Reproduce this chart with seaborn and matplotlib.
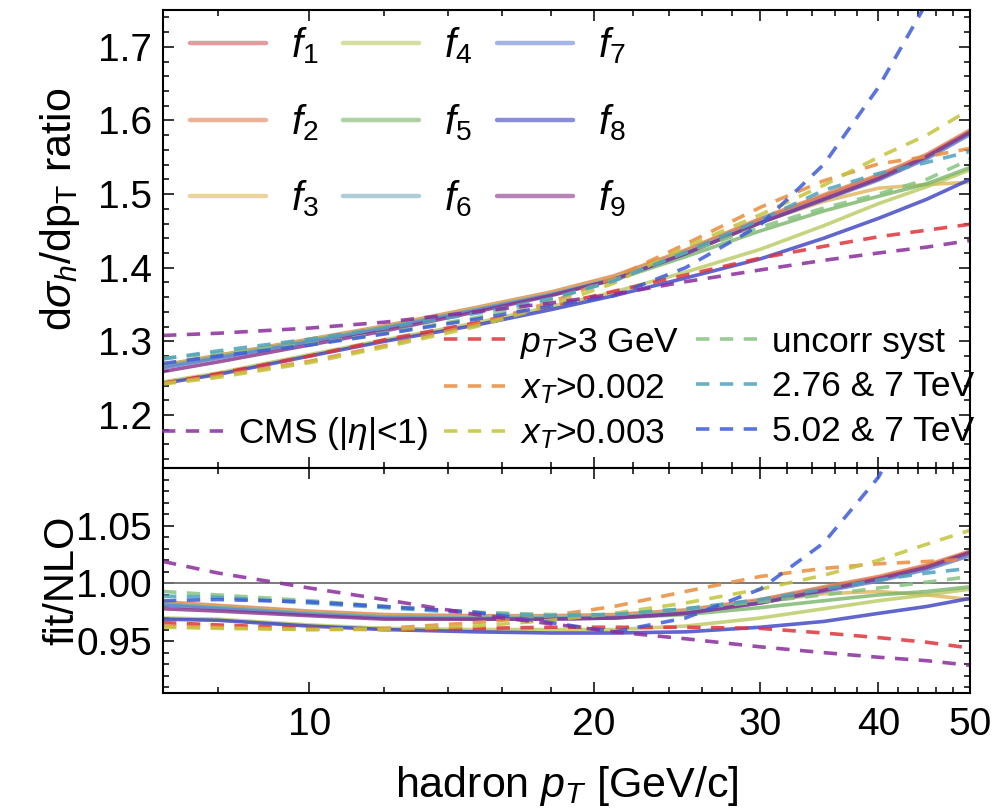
import numpy as np
import pandas as pd
import matplotlib
matplotlib.use("Agg")
import matplotlib.pyplot as plt
import seaborn as sns
from matplotlib.ticker import FixedLocator, NullFormatter, FixedFormatter
from matplotlib.lines import Line2D

# ---------------- data ----------------
pt = [7, 8, 10, 12, 15, 18, 21, 25, 30, 35, 40, 45, 50]

# upper panel: dsigma/dpT ratio
f1_up = [1.266, 1.279, 1.301, 1.319, 1.344, 1.365, 1.387, 1.422, 1.465, 1.497, 1.524, 1.552, 1.585]
f2_up = [1.268, 1.281, 1.303, 1.321, 1.346, 1.367, 1.389, 1.424, 1.467, 1.499, 1.526, 1.554, 1.587]
f3_up = [1.267, 1.280, 1.302, 1.320, 1.345, 1.366, 1.387, 1.421, 1.462, 1.490, 1.508, 1.513, 1.516]
f4_up = [1.245, 1.257, 1.282, 1.302, 1.325, 1.347, 1.367, 1.394, 1.425, 1.457, 1.487, 1.510, 1.533]
f5_up = [1.266, 1.279, 1.301, 1.319, 1.343, 1.363, 1.383, 1.415, 1.450, 1.477, 1.497, 1.514, 1.536]
f6_up = [1.265, 1.278, 1.300, 1.318, 1.343, 1.364, 1.385, 1.420, 1.462, 1.493, 1.520, 1.549, 1.582]
f7_up = [1.264, 1.277, 1.299, 1.317, 1.342, 1.363, 1.384, 1.419, 1.461, 1.492, 1.519, 1.548, 1.581]
f8_up = [1.243, 1.255, 1.280, 1.300, 1.322, 1.343, 1.362, 1.386, 1.412, 1.440, 1.467, 1.493, 1.520]
f9_up = [1.259, 1.272, 1.295, 1.314, 1.340, 1.362, 1.384, 1.419, 1.461, 1.493, 1.521, 1.551, 1.584]

pt3_up = [1.243, 1.256, 1.280, 1.302, 1.325, 1.348, 1.368, 1.390, 1.413, 1.429, 1.442, 1.451, 1.459]
xt002_up = [1.243, 1.253, 1.273, 1.294, 1.323, 1.353, 1.386, 1.432, 1.482, 1.518, 1.541, 1.551, 1.562]
xt003_up = [1.242, 1.251, 1.271, 1.292, 1.320, 1.349, 1.379, 1.428, 1.472, 1.512, 1.550, 1.580, 1.615]
uncorr_up = [1.277, 1.284, 1.296, 1.311, 1.332, 1.356, 1.383, 1.421, 1.455, 1.481, 1.500, 1.520, 1.547]
e276_up = [1.276, 1.287, 1.303, 1.318, 1.338, 1.358, 1.382, 1.421, 1.465, 1.505, 1.528, 1.543, 1.558]
e502_up = [1.270, 1.280, 1.295, 1.310, 1.330, 1.348, 1.362, 1.400, 1.458, 1.540, 1.645, 1.760, 1.920]
cms_up = [1.308, 1.311, 1.318, 1.326, 1.340, 1.352, 1.364, 1.381, 1.397, 1.410, 1.420, 1.428, 1.437]

# lower panel: fit/NLO
f1_lo = [0.983, 0.980, 0.975, 0.972, 0.971, 0.971, 0.972, 0.976, 0.985, 0.996, 1.005, 1.015, 1.027]
f2_lo = [0.984, 0.981, 0.976, 0.973, 0.972, 0.972, 0.973, 0.977, 0.986, 0.997, 1.006, 1.016, 1.028]
f3_lo = [0.983, 0.980, 0.975, 0.972, 0.971, 0.971, 0.972, 0.976, 0.984, 0.991, 0.993, 0.990, 0.986]
f4_lo = [0.970, 0.969, 0.964, 0.961, 0.960, 0.960, 0.960, 0.963, 0.970, 0.978, 0.985, 0.990, 0.995]
f5_lo = [0.982, 0.979, 0.974, 0.971, 0.970, 0.970, 0.970, 0.973, 0.979, 0.985, 0.990, 0.993, 0.997]
f6_lo = [0.982, 0.979, 0.974, 0.971, 0.970, 0.970, 0.971, 0.975, 0.984, 0.994, 1.003, 1.013, 1.025]
f7_lo = [0.981, 0.978, 0.973, 0.970, 0.969, 0.969, 0.970, 0.974, 0.983, 0.993, 1.002, 1.012, 1.024]
f8_lo = [0.969, 0.968, 0.963, 0.960, 0.958, 0.957, 0.957, 0.958, 0.962, 0.967, 0.974, 0.980, 0.987]
f9_lo = [0.978, 0.976, 0.972, 0.969, 0.969, 0.969, 0.970, 0.974, 0.983, 0.994, 1.004, 1.014, 1.027]

pt3_lo = [0.966, 0.964, 0.961, 0.960, 0.961, 0.962, 0.962, 0.962, 0.961, 0.957, 0.953, 0.949, 0.944]
xt002_lo = [0.963, 0.962, 0.960, 0.961, 0.966, 0.972, 0.980, 0.993, 1.006, 1.013, 1.017, 1.019, 1.021]
xt003_lo = [0.962, 0.961, 0.960, 0.960, 0.963, 0.968, 0.974, 0.983, 0.995, 1.007, 1.020, 1.034, 1.046]
uncorr_lo = [0.993, 0.990, 0.985, 0.980, 0.975, 0.973, 0.973, 0.978, 0.984, 0.990, 0.996, 1.001, 1.006]
e276_lo = [0.989, 0.988, 0.983, 0.979, 0.974, 0.972, 0.973, 0.978, 0.986, 0.995, 1.003, 1.009, 1.013]
e502_lo = [0.985, 0.986, 0.984, 0.980, 0.975, 0.966, 0.958, 0.970, 0.995, 1.035, 1.092, 1.170, 1.250]
cms_lo = [1.019, 1.009, 0.996, 0.986, 0.973, 0.965, 0.958, 0.952, 0.945, 0.940, 0.936, 0.933, 0.929]

fit_names = ["$f_1$", "$f_2$", "$f_3$", "$f_4$", "$f_5$", "$f_6$", "$f_7$", "$f_8$", "$f_9$"]
fit_up = [f1_up, f2_up, f3_up, f4_up, f5_up, f6_up, f7_up, f8_up, f9_up]
fit_lo = [f1_lo, f2_lo, f3_lo, f4_lo, f5_lo, f6_lo, f7_lo, f8_lo, f9_lo]
fit_colors = ["#cc5a5e", "#e08050", "#e0b45a", "#b9c95e", "#78b468",
              "#78acbc", "#6684d2", "#3a40c4", "#86308a"]

var_names = ["$p_T$>3 GeV", "$x_T$>0.002", "$x_T$>0.003", "uncorr syst",
             "2.76 & 7 TeV", "5.02 & 7 TeV", "CMS (|$\\eta$|<1)"]
var_up = [pt3_up, xt002_up, xt003_up, uncorr_up, e276_up, e502_up, cms_up]
var_lo = [pt3_lo, xt002_lo, xt003_lo, uncorr_lo, e276_lo, e502_lo, cms_lo]
var_colors = ["#e0343a", "#e88c3c", "#c4c43c", "#86c480", "#4ea2bc", "#3c5cd8", "#8a2c9c"]

up_yticks = [1.2, 1.3, 1.4, 1.5, 1.6, 1.7]
lo_yticks = [0.95, 1.00, 1.05]
x_ticks = [10, 20, 30, 40, 50]

# ---------------- style ----------------
sns.set_theme(style="ticks")
plt.rcParams["font.family"] = ["Liberation Sans", "DejaVu Sans"]
plt.rcParams["mathtext.fontset"] = "custom"
plt.rcParams["mathtext.rm"] = "Liberation Sans"
plt.rcParams["mathtext.it"] = "Liberation Sans:italic"
plt.rcParams["mathtext.bf"] = "Liberation Sans:bold"
plt.rcParams["text.color"] = "black"
plt.rcParams["axes.labelcolor"] = "black"
plt.rcParams["xtick.color"] = "black"
plt.rcParams["ytick.color"] = "black"

W, H = 997, 810
fig = plt.figure(figsize=(W / 100, H / 100), dpi=100)
L, R = 163, 970
ax1 = fig.add_axes([L / W, 1 - 468 / H, (R - L) / W, (468 - 10) / H])
ax2 = fig.add_axes([L / W, 1 - 693 / H, (R - L) / W, (693 - 468) / H])

DASH = (0, (3.7, 2.9))

for ax, fits, vars_ in ((ax1, fit_up, var_up), (ax2, fit_lo, var_lo)):
    for vals, c in zip(fits, fit_colors):
        sns.lineplot(x=pt, y=vals, ax=ax, color=c, linewidth=2.6, alpha=0.8,
                     legend=False, sort=False)
    for vals, c in zip(vars_, var_colors):
        sns.lineplot(x=pt, y=vals, ax=ax, color=c, linewidth=2.6, alpha=0.85,
                     linestyle=DASH, legend=False, sort=False)

ax2.axhline(1.0, color="#707070", lw=1.3, zorder=1)

for ax in (ax1, ax2):
    ax.set_xscale("log")
    ax.set_xlim(7, 50)
    ax.xaxis.set_major_locator(FixedLocator(x_ticks))
    ax.xaxis.set_minor_locator(FixedLocator([v for v in range(8, 50, 2) if v not in x_ticks]))
    ax.xaxis.set_minor_formatter(NullFormatter())
    ax.tick_params(which="both", direction="in", top=True, right=True,
                   labelsize=28, colors="black", width=1.1)
    ax.tick_params(which="major", length=8)
    ax.tick_params(which="minor", length=4.5)
    for s in ax.spines.values():
        s.set_color("black")
        s.set_linewidth(1.5)
    ax.set_facecolor("white")
    ax.set_xlabel("")
    ax.set_ylabel("")

ax1.set_ylim(1.128, 1.75)
ax1.yaxis.set_major_locator(FixedLocator(up_yticks))
ax1.yaxis.set_major_formatter(FixedFormatter([f"{v:.1f}" for v in up_yticks]))
ax1.yaxis.set_minor_locator(FixedLocator(np.arange(1.14, 1.751, 0.02)))
ax1.tick_params(labelbottom=False)

ax2.set_ylim(0.905, 1.10)
ax2.yaxis.set_major_locator(FixedLocator(lo_yticks))
ax2.yaxis.set_major_formatter(FixedFormatter([f"{v:.2f}" for v in lo_yticks]))
ax2.yaxis.set_minor_locator(FixedLocator(np.arange(0.91, 1.10, 0.01)))
ax2.xaxis.set_major_formatter(FixedFormatter([str(v) for v in x_ticks]))
ax2.tick_params(axis="x", which="major", pad=10)
ax1.tick_params(axis="y", pad=8)
ax2.tick_params(axis="y", pad=8)

ax1.set_ylabel("d$\\sigma_h$/dp$_{\\mathrm{T}}$ ratio", fontsize=31)
ax1.yaxis.set_label_coords(-0.100, 0.565)
ax2.set_ylabel("fit/NLO", fontsize=30)
ax2.yaxis.set_label_coords(-0.100, 0.5)
ax2.set_xlabel("hadron $p_T$ [GeV/c]", fontsize=31)
ax2.xaxis.set_label_coords(0.5, -0.315)

# legend 1: fits
h1 = [Line2D([], [], color=c, lw=3.2, alpha=0.6) for c in fit_colors]
leg1 = ax1.legend(h1, fit_names, ncol=3, loc="upper left", bbox_to_anchor=(0.033, 0.966),
                  frameon=False, fontsize=29, handlelength=1.9, handletextpad=0.62,
                  columnspacing=0.6, labelspacing=0.89, borderpad=0, borderaxespad=0)
ax1.add_artist(leg1)

# legend 2: variations
blank = Line2D([], [], alpha=0)
h2 = [Line2D([], [], color=c, lw=2.6, alpha=0.85, linestyle=DASH) for c in var_colors]
handles2 = [blank, blank, h2[6], h2[0], h2[1], h2[2], h2[3], h2[4], h2[5]]
labels2 = ["", "", var_names[6], var_names[0], var_names[1], var_names[2],
           var_names[3], var_names[4], var_names[5]]
ax1.legend(handles2, labels2, ncol=3, loc="lower right", bbox_to_anchor=(1.005, 0.035),
           frameon=False, fontsize=25.5, handlelength=2.0, handletextpad=0.15,
           columnspacing=0.45, labelspacing=0.33, borderpad=0, borderaxespad=0)

fig.savefig("out.png", dpi=100, facecolor="white")
